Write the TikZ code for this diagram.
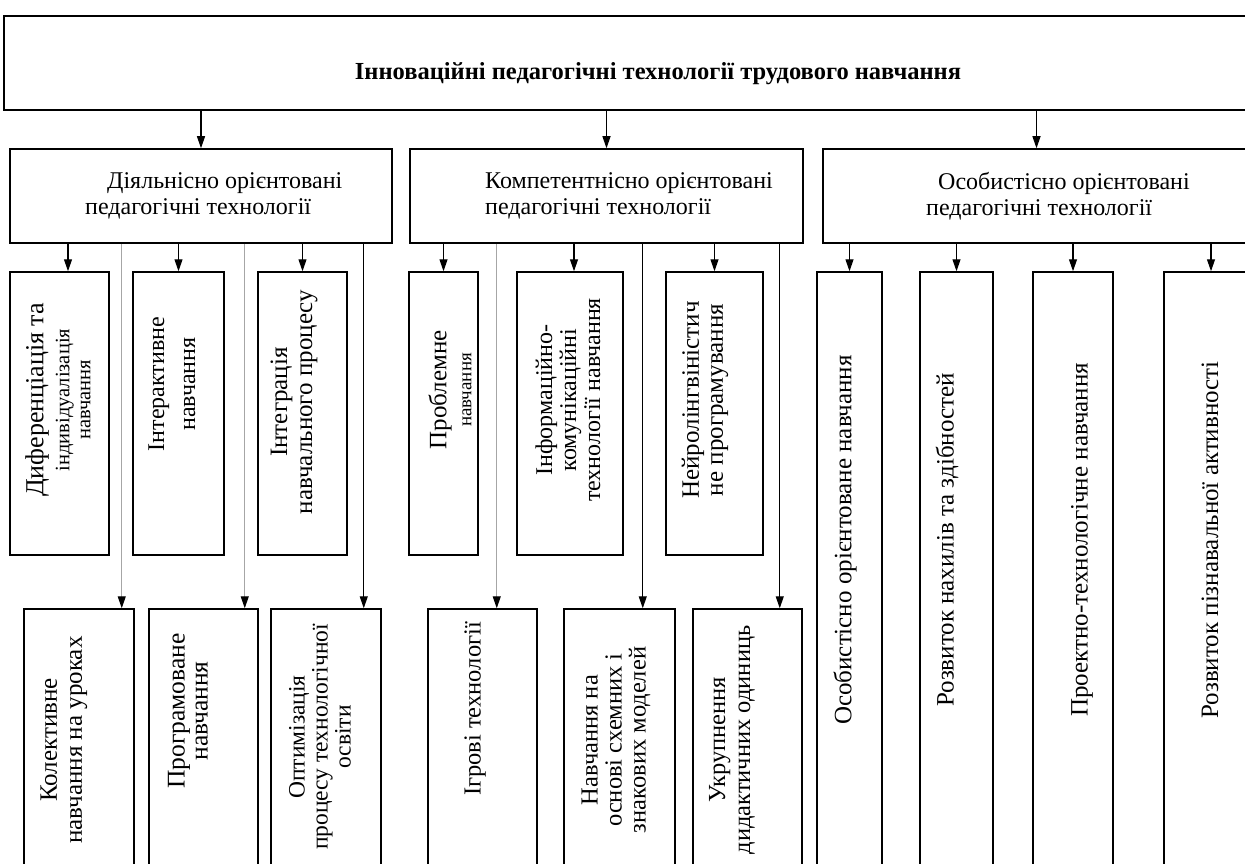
\documentclass[tikz,border=0pt]{standalone}
\usepackage{fontspec}
\setmainfont{Liberation Serif}
\usetikzlibrary{arrows.meta}

\begin{document}
\begin{tikzpicture}[x=1pt,y=-1pt,
		box/.style={draw, line width=1.5pt, inner sep=0pt},
		hlab/.style={inner sep=0pt, align=left, anchor=west, font=\fontsize{24}{26}\selectfont},
		vlab/.style={inner sep=0pt, rotate=90, align=center, font=\fontsize{25}{25}\selectfont},
		arr/.style={line width=1.2pt, -{Triangle[length=12pt,width=8pt,color=black]}},
		garr/.style={arr, draw=black!35}]
			\useasboundingbox (0,0) rectangle (1245,864);
			\node[box, minimum width=1308pt, minimum height=94pt] (top) at (658,63) {};
			\node[anchor=base, inner sep=0pt, font=\bfseries\fontsize{24.5}{26}\selectfont] (toplab) at (658,80) {Інноваційні педагогічні технології трудового навчання};
			\node[box, minimum width=382pt, minimum height=94pt] (act) at (201,196) {};
			\node[box, minimum width=393pt, minimum height=94pt] (comp) at (606.5,196) {};
			\node[box, minimum width=427pt, minimum height=94pt] (pers) at (1036.5,196) {};
			\node[hlab] (actlab) at (85,196) {\hspace*{22pt}Діяльнісно орієнтовані\\педагогічні технології};
			\node[hlab] (complab) at (485,196) {Компетентнісно орієнтовані\\педагогічні технології};
			\node[hlab] (perslab) at (926,196) {\hspace*{12pt}Особистісно орієнтовані\\педагогічні технології};
			\node[box, minimum width=99pt, minimum height=283pt] (dif) at (59.5,413.5) {};
			\node[box, minimum width=91pt, minimum height=283pt] (inter) at (178.5,413.5) {};
			\node[box, minimum width=89pt, minimum height=283pt] (integ) at (302.5,413.5) {};
			\node[box, minimum width=69pt, minimum height=283pt] (probl) at (443.5,413.5) {};
			\node[box, minimum width=106pt, minimum height=283pt] (infor) at (570,413.5) {};
			\node[box, minimum width=97pt, minimum height=283pt] (neuro) at (714.5,413.5) {};
			\node[box, minimum width=110pt, minimum height=263pt] (kol) at (79,740.5) {};
			\node[box, minimum width=109pt, minimum height=263pt] (prog) at (203.5,740.5) {};
			\node[box, minimum width=110pt, minimum height=263pt] (optim) at (326,740.5) {};
			\node[box, minimum width=109pt, minimum height=263pt] (igr) at (482.5,740.5) {};
			\node[box, minimum width=111pt, minimum height=263pt] (navch) at (619.5,740.5) {};
			\node[box, minimum width=109pt, minimum height=263pt] (ukr) at (747.5,740.5) {};
			\node[box, minimum width=65pt, minimum height=600pt] (osob) at (849.5,572) {};
			\node[box, minimum width=73pt, minimum height=600pt] (rozv) at (956.5,572) {};
			\node[box, minimum width=80pt, minimum height=600pt] (proekt) at (1073,572) {};
			\node[box, minimum width=86pt, minimum height=600pt] (pizn) at (1207,572) {};
			\node[vlab, font=\fontsize{20.5}{21}\selectfont] (diflab) at (58,400) {{\fontsize{26}{26}\selectfont Диференціація та}\\[5pt]індивідуалізація\\навчання};
			\node[vlab, font=\fontsize{24}{31}\selectfont] (interlab) at (172,384) {Інтерактивне\\навчання};
			\node[vlab] (integlab) at (294,402) {Інтеграція\\навчального процесу};
			\node[vlab] (probllab) at (450,390) {{\fontsize{25}{26}\selectfont Проблемне}\\{\fontsize{19}{18}\selectfont навчання}};
			\node[vlab, font=\fontsize{24}{24}\selectfont] (inforlab) at (568,400) {Інформаційно-\\комунікаційні\\технології навчання};
			\node[vlab, font=\fontsize{25}{24}\selectfont] (neurolab) at (705,400) {Нейролінгвіністич\\не програмування};
			\node[vlab] (kollab) at (64,740) {Колективне\\навчання на уроках};
			\node[vlab, font=\fontsize{25.5}{23}\selectfont] (proglab) at (188,711) {Програмоване\\навчання};
			\node[vlab, font=\fontsize{23.5}{23}\selectfont] (optimlab) at (320,737) {Оптимізація\\процесу технологічної\\освіти};
			\node[vlab, font=\fontsize{24.5}{25}\selectfont] (igrlab) at (475,709) {Ігрові технології};
			\node[vlab, font=\fontsize{24.5}{24}\selectfont] (navchlab) at (616,740) {Навчання на\\основі схемних і\\знакових моделей};
			\node[vlab, font=\fontsize{24.5}{25}\selectfont] (ukrlab) at (732,740) {Укрупнення\\дидактичних одиниць};
			\node[vlab] (osoblab) at (845,540) {Особистісно орієнтоване навчання};
			\node[vlab] (rozvlab) at (947,540) {Розвиток нахилів та здібностей};
			\node[vlab] (proektlab) at (1082,540) {Проектно-технологічне навчання};
			\node[vlab] (piznlab) at (1210,540) {Розвиток пізнавальної активності};
			\coordinate (difin) at ([xshift=8.5pt]dif.north);
			\coordinate (inforin) at ([xshift=4pt]infor.north);
			\coordinate (piznin) at ([xshift=4pt]pizn.north);
			\coordinate (kolin) at ([xshift=-13pt]kol.north east);
			\coordinate (progin) at ([xshift=-14pt]prog.north east);
			\coordinate (optimin) at ([xshift=-18pt]optim.north east);
			\coordinate (igrin) at ([xshift=-41pt]igr.north east);
			\coordinate (navchin) at ([xshift=-33pt]navch.north east);
			\coordinate (ukrin) at ([xshift=-23pt]ukr.north east);
			\draw[arr] (top.south -| act.north) -- (act.north);
			\draw[arr] (top.south -| comp.north) -- (comp.north);
			\draw[arr] (top.south -| pers.north) -- (pers.north);
			\draw[arr] (act.south -| difin) -- (difin);
			\draw[arr] (act.south -| inter.north) -- (inter.north);
			\draw[arr] (act.south -| integ.north) -- (integ.north);
			\draw[garr] (act.south -| kolin) -- (kolin);
			\draw[garr] (act.south -| progin) -- (progin);
			\draw[arr] (act.south -| optimin) -- (optimin);
			\draw[arr] (comp.south -| probl.north) -- (probl.north);
			\draw[arr] (comp.south -| inforin) -- (inforin);
			\draw[arr] (comp.south -| neuro.north) -- (neuro.north);
			\draw[garr] (comp.south -| igrin) -- (igrin);
			\draw[arr] (comp.south -| navchin) -- (navchin);
			\draw[arr] (comp.south -| ukrin) -- (ukrin);
			\draw[arr] (pers.south -| osob.north) -- (osob.north);
			\draw[arr] (pers.south -| rozv.north) -- (rozv.north);
			\draw[arr] (pers.south -| proekt.north) -- (proekt.north);
			\draw[arr] (pers.south -| piznin) -- (piznin);
		\end{tikzpicture}
\end{document}
